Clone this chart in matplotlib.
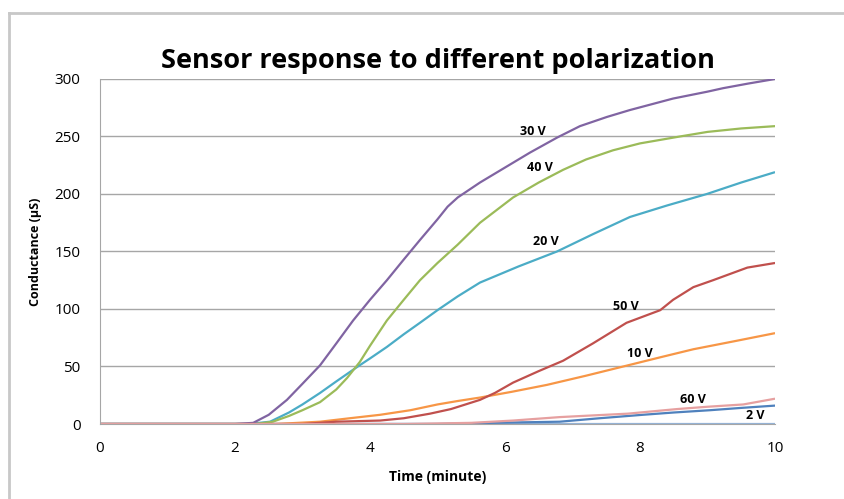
import matplotlib
matplotlib.use("Agg")
import matplotlib.pyplot as plt
from matplotlib.lines import Line2D

# values (time in minutes, conductance in uS)
t_30v = [0, 2.0, 2.27, 2.5, 2.77, 3.0, 3.26, 3.5, 3.75, 4.0, 4.25, 4.5, 4.74, 5.0,
         5.15, 5.3, 5.63, 6.0, 6.37, 6.77, 7.11, 7.51, 7.85, 8.49, 9.0, 9.23, 9.6, 10]
v_30v = [0, 0, 1, 8, 21, 35, 51, 70, 90, 108, 125, 143, 160, 178,
         189, 197, 210, 223, 236, 249, 259, 267, 273, 283, 289, 292, 296, 300]

t_40v = [0, 2.3, 2.56, 2.8, 3.0, 3.26, 3.5, 3.66, 3.85, 4.0, 4.25, 4.5, 4.74, 5.0,
         5.3, 5.63, 6.12, 6.5, 6.86, 7.2, 7.6, 8.0, 8.59, 9.0, 9.5, 10]
v_40v = [0, 0, 2, 7, 12, 19, 30, 40, 54, 68, 90, 108, 125, 140,
         156, 175, 197, 210, 221, 230, 238, 244, 250, 254, 257, 259]

t_20v = [0, 2.2, 2.52, 2.8, 3.0, 3.26, 3.5, 3.82, 4.0, 4.25, 4.5, 4.74, 5.0, 5.3,
         5.63, 6.2, 6.77, 7.3, 7.85, 8.4, 8.99, 9.5, 10]
v_20v = [0, 0, 2, 10, 17, 27, 37, 50, 57, 67, 78, 88, 99, 111,
         123, 137, 150, 165, 180, 190, 200, 210, 219]

t_50v = [0, 3.0, 3.5, 4.15, 4.5, 4.89, 5.2, 5.63, 5.85, 6.12, 6.5, 6.86, 7.3, 7.8,
         8.3, 8.49, 8.79, 9.08, 9.59, 10]
v_50v = [0, 0, 2, 3, 5, 9, 13, 21, 27, 36, 46, 55, 70, 88,
         99, 108, 119, 125, 136, 140]

t_10v = [0, 2.6, 3.26, 3.7, 4.15, 4.6, 5.0, 5.3, 5.63, 6.1, 6.62, 7.2, 7.82, 8.3,
         8.79, 9.4, 10]
v_10v = [0, 0, 2, 5, 8, 12, 17, 20, 23, 28, 34, 42, 51, 58, 65, 72, 79]

t_60v = [0, 4.5, 5.5, 6.12, 6.81, 7.82, 8.55, 9.0, 9.53, 10]
v_60v = [0, 0, 1, 3, 6, 9, 13, 15, 17, 22]

t_blue = [0, 5.0, 5.8, 6.81, 7.4, 8.04, 8.5, 9.04, 9.5, 10]
v_blue = [0, 0, 1, 2, 5, 8, 10, 12, 14, 16]

t_2v = [0, 10]
v_2v = [0, 0]

series = [
    (t_2v, v_2v, "#95B3D7"),
    (t_blue, v_blue, "#4F81BD"),
    (t_10v, v_10v, "#F79646"),
    (t_20v, v_20v, "#4BACC6"),
    (t_40v, v_40v, "#9BBB59"),
    (t_30v, v_30v, "#8064A2"),
    (t_50v, v_50v, "#C0504D"),
    (t_60v, v_60v, "#E6A0A0"),
]

label_text = ["30 V", "40 V", "20 V", "50 V", "10 V", "60 V", "2 V"]
label_x = [6.42, 6.52, 6.61, 7.79, 8.0, 8.79, 9.70]
label_y = [254, 223, 159, 102, 61, 21, 7]

plt.rcParams["font.family"] = ["Open Sans", "DejaVu Sans"]

fig = plt.figure(figsize=(8.45, 4.99), dpi=100)
ax = fig.add_axes([0.1183, 0.1503, 0.7989, 0.6914])

for t, v, c in series:
    ax.plot(t, v, color=c, lw=1.6, solid_capstyle="butt")

for txt, x, y in zip(label_text, label_x, label_y):
    ax.text(x, y, txt, ha="center", va="center", fontsize=9, fontweight="bold")

ax.set_xlim(0, 10)
ax.set_ylim(0, 300)
ax.set_xticks(range(0, 11, 2))
ax.set_yticks(range(0, 301, 50))
ax.grid(axis="y", color="#A6A6A6", lw=1.0)
ax.set_axisbelow(True)
for side in ["top", "right"]:
    ax.spines[side].set_visible(False)
for side in ["left", "bottom"]:
    ax.spines[side].set_color("#A6A6A6")
ax.tick_params(length=0, labelsize=11, pad=12)
ax.tick_params(axis="y", pad=14)

ax.set_title("Sensor response to different polarization", fontsize=19.5,
             fontweight="bold", pad=8)
ax.set_xlabel("Time (minute)", fontsize=10, fontweight="bold", labelpad=10)
ax.set_ylabel("Conductance (µS)", fontsize=9, fontweight="bold", labelpad=9)

# outer chart frame
fig.add_artist(Line2D([9 / 845, 9 / 845], [0, 1 - 13 / 499], color="#C8C8C8", lw=2))
fig.add_artist(Line2D([9 / 845, 1], [1 - 13 / 499, 1 - 13 / 499], color="#C8C8C8", lw=2))

fig.savefig("out.png", dpi=100)
